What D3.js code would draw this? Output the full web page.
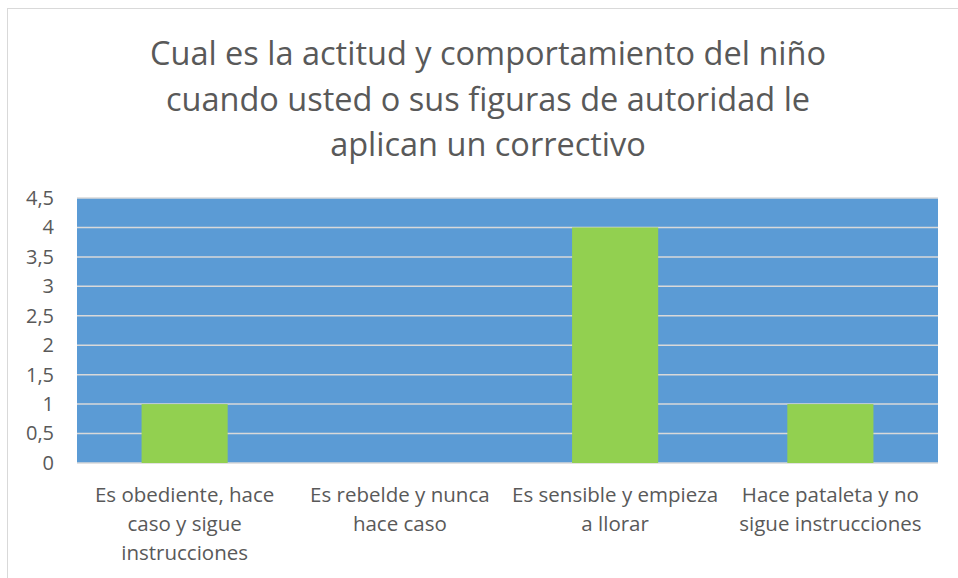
<!DOCTYPE html>
<html><head><meta charset="utf-8">
<script src="https://cdn.jsdelivr.net/npm/d3@7"></script>
<style>html,body{margin:0;padding:0;background:#fff;overflow:hidden}</style>
</head><body>
<svg id="c" width="958" height="578"></svg>
<script>
const categories = [
  ["Es obediente, hace", "caso y sigue", "instrucciones"],
  ["Es rebelde y nunca", "hace caso"],
  ["Es sensible y empieza", "a llorar"],
  ["Hace pataleta y no", "sigue instrucciones"]
];
const values = [1, 0, 4, 1];
const yTicks = [0, 0.5, 1, 1.5, 2, 2.5, 3, 3.5, 4, 4.5];
const titleLines = [
  "Cual es la actitud y comportamiento del niño",
  "cuando usted o sus figuras de autoridad le",
  "aplican un correctivo"
];

const FONT = "'Open Sans', 'Liberation Sans', sans-serif";
const svg = d3.select("#c");
const m = {left: 77, right: 938, top: 198, bottom: 463};

svg.append("rect").attr("x", 7.5).attr("y", 8.5).attr("width", 1000).attr("height", 1000)
  .attr("fill", "#fff").attr("stroke", "#D9D9D9").attr("stroke-width", 1);

const x = d3.scaleBand().domain(d3.range(categories.length)).range([m.left, m.right]).paddingInner(0.6).paddingOuter(0.3);
const xc = d3.scaleBand().domain(d3.range(categories.length)).range([m.left, m.right]);
const y = d3.scaleLinear().domain([0, 4.5]).range([m.bottom, m.top]);

svg.append("rect").attr("x", m.left).attr("y", m.top).attr("width", m.right - m.left)
  .attr("height", m.bottom - m.top).attr("fill", "#5B9BD5");

svg.append("g").selectAll("line").data(yTicks).join("line")
  .attr("x1", m.left).attr("x2", m.right)
  .attr("y1", d => y(d)).attr("y2", d => y(d))
  .attr("stroke", "#D9D9D9").attr("stroke-width", 1.5);

svg.append("g").selectAll("rect").data(values).join("rect")
  .attr("x", (d, i) => x(i)).attr("width", x.bandwidth())
  .attr("y", d => y(d)).attr("height", d => y(0) - y(d))
  .attr("fill", "#92D050");

const fmt = d => d3.format("")(d).replace(".", ",");
const yAxis = svg.append("g").attr("transform", `translate(${54},0)`)
  .call(d3.axisLeft(y).tickValues(yTicks).tickFormat(fmt).tickSize(0).tickPadding(0));
yAxis.select(".domain").remove();
yAxis.selectAll("text").attr("font-family", FONT).attr("font-size", 20).attr("fill", "#595959");

const xg = svg.append("g");
categories.forEach((lines, i) => {
  const t = xg.append("text").attr("text-anchor", "middle").attr("font-family", FONT)
    .attr("font-size", 20.5).attr("fill", "#595959");
  lines.forEach((ln, j) => {
    t.append("tspan").attr("x", xc(i) + xc.bandwidth() / 2).attr("y", 502 + j * 29).text(ln);
  });
});

const tt = svg.append("text").attr("text-anchor", "middle").attr("font-family", FONT)
  .attr("font-size", 32.5).attr("fill", "#595959");
titleLines.forEach((ln, j) => {
  tt.append("tspan").attr("x", 488).attr("y", 65 + j * 45.5).text(ln);
});
</script>
</body></html>
